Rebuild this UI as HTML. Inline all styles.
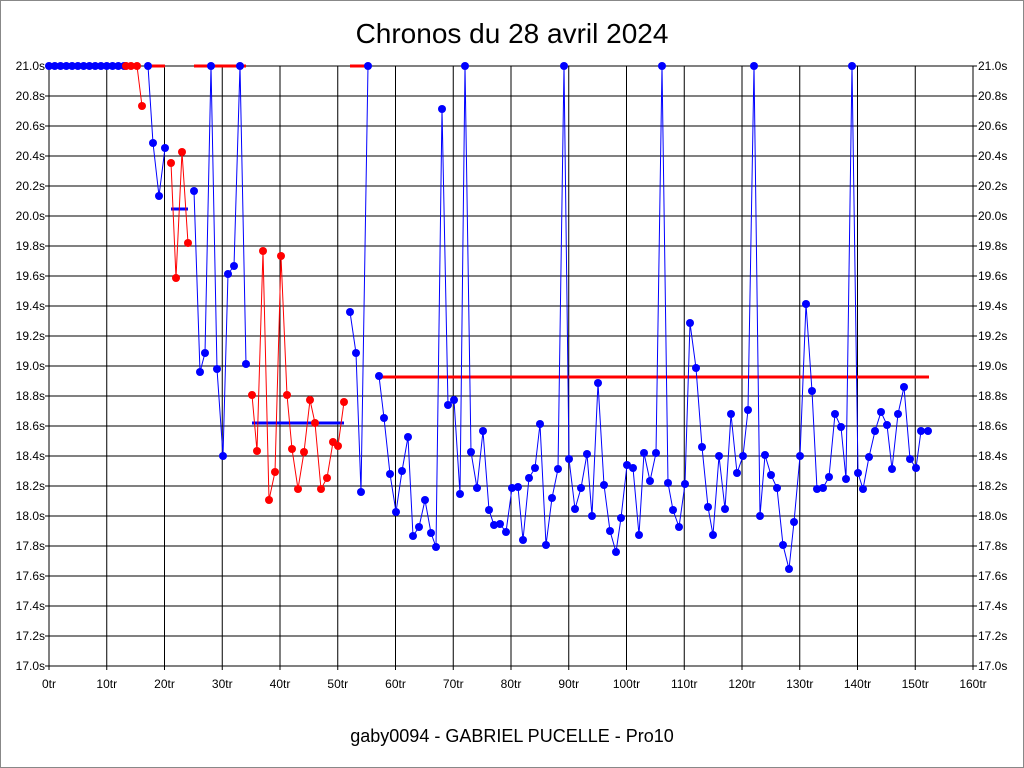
<!DOCTYPE html>
<html><head><meta charset="utf-8"><style>
body{margin:0;background:#fff}
svg{display:block;font-family:"Liberation Sans",sans-serif}
</style></head><body>
<svg id="s" width="1024" height="768" xmlns="http://www.w3.org/2000/svg">
<rect x="0.5" y="0.5" width="1023" height="767" fill="#fff" stroke="#888"/>
<text x="512" y="43" font-size="28" text-anchor="middle">Chronos du 28 avril 2024</text>
<text x="512" y="742" font-size="18" text-anchor="middle">gaby0094 - GABRIEL PUCELLE - Pro10</text>
<g id="grid" stroke="#000" stroke-width="1"></g>
<g font-size="12" text-anchor="end">
<text x="45" y="70">21.0s</text><text x="45" y="100">20.8s</text><text x="45" y="130">20.6s</text><text x="45" y="160">20.4s</text><text x="45" y="190">20.2s</text><text x="45" y="220">20.0s</text><text x="45" y="250">19.8s</text><text x="45" y="280">19.6s</text><text x="45" y="310">19.4s</text><text x="45" y="340">19.2s</text><text x="45" y="370">19.0s</text><text x="45" y="400">18.8s</text><text x="45" y="430">18.6s</text><text x="45" y="460">18.4s</text><text x="45" y="490">18.2s</text><text x="45" y="520">18.0s</text><text x="45" y="550">17.8s</text><text x="45" y="580">17.6s</text><text x="45" y="610">17.4s</text><text x="45" y="640">17.2s</text><text x="45" y="670">17.0s</text>
</g>
<g font-size="12">
<text x="978" y="70">21.0s</text><text x="978" y="100">20.8s</text><text x="978" y="130">20.6s</text><text x="978" y="160">20.4s</text><text x="978" y="190">20.2s</text><text x="978" y="220">20.0s</text><text x="978" y="250">19.8s</text><text x="978" y="280">19.6s</text><text x="978" y="310">19.4s</text><text x="978" y="340">19.2s</text><text x="978" y="370">19.0s</text><text x="978" y="400">18.8s</text><text x="978" y="430">18.6s</text><text x="978" y="460">18.4s</text><text x="978" y="490">18.2s</text><text x="978" y="520">18.0s</text><text x="978" y="550">17.8s</text><text x="978" y="580">17.6s</text><text x="978" y="610">17.4s</text><text x="978" y="640">17.2s</text><text x="978" y="670">17.0s</text>
</g>
<g font-size="12" text-anchor="middle">
<text x="49" y="688">0tr</text><text x="106.75" y="688">10tr</text><text x="164.5" y="688">20tr</text><text x="222.25" y="688">30tr</text><text x="280" y="688">40tr</text><text x="337.75" y="688">50tr</text><text x="395.5" y="688">60tr</text><text x="453.25" y="688">70tr</text><text x="511" y="688">80tr</text><text x="568.75" y="688">90tr</text><text x="626.5" y="688">100tr</text><text x="684.25" y="688">110tr</text><text x="742" y="688">120tr</text><text x="799.75" y="688">130tr</text><text x="857.5" y="688">140tr</text><text x="915.25" y="688">150tr</text><text x="973" y="688">160tr</text>
</g>
<g id="data"></g>
</svg>
<script>
var NS="http://www.w3.org/2000/svg",g=document.getElementById("grid"),d=document.getElementById("data");
function el(p,t,a){var e=document.createElementNS(NS,t);for(var k in a)e.setAttribute(k,a[k]);p.appendChild(e);return e;}
for(var i=0;i<=20;i++){var y=66+30*i;el(g,"line",{x1:45,x2:977,y1:y,y2:y});}
for(var i=0;i<=16;i++){var x=49+57.75*i;el(g,"line",{x1:x,x2:x,y1:66,y2:670});}
function hl(x1,x2,y,c){el(d,"line",{x1:x1,x2:x2,y1:y,y2:y,stroke:c,"stroke-width":3});}
hl(148,165,66,"red");hl(194,246,66,"red");hl(350,366,66,"red");hl(379,929,377,"red");
hl(171,188,209,"blue");hl(252,344,423,"blue");
function ser(pts,c){el(d,"polyline",{points:pts.map(function(p){return p.join(",")}).join(" "),fill:"none",stroke:c,"stroke-width":1});pts.forEach(function(p){el(d,"circle",{cx:p[0],cy:p[1],r:4,fill:c});});}
var b0=[];for(var i=0;i<14;i++)b0.push([49+5.775*i,66]);ser(b0,"blue");
ser([[126,66],[131,66],[137,66],[142,106]],"red");
ser([[148,66],[153,143],[159,196],[165,148]],"blue");
ser([[171,163],[176,278],[182,152],[188,243]],"red");
ser([[194,191],[200,372],[205,353],[211,66],[217,369],[223,456],[228,274],[234,266],[240,66],[246,364]],"blue");
ser([[252,395],[257,451],[263,251],[269,500],[275,472],[281,256],[287,395],[292,449],[298,489],[304,452],[310,400],[315,423],[321,489],[327,478],[333,442],[338,446],[344,402]],"red");
ser([[350,312],[356,353],[361,492],[368,66]],"blue");
ser([[379,376],[384,418],[390,474],[396,512],[402,471],[408,437],[413,536],[419,527],[425,500],[431,533],[436,547],[442,109],[448,405],[454,400],[460,494],[465,66],[471,452],[477,488],[483,431],[489,510],[494,525],[500,524],[506,532],[512,488],[518,487],[523,540],[529,478],[535,468],[540,424],[546,545],[552,498],[558,469],[564,66],[569,459],[575,509],[581,488],[587,454],[592,516],[598,383],[604,485],[610,531],[616,552],[621,518],[627,465],[633,468],[639,535],[644,453],[650,481],[656,453],[662,66],[668,483],[673,510],[679,527],[685,484],[690,323],[696,368],[702,447],[708,507],[713,535],[719,456],[725,509],[731,414],[737,473],[743,456],[748,410],[754,66],[760,516],[765,455],[771,475],[777,488],[783,545],[789,569],[794,522],[800,456],[806,304],[812,391],[817,489],[823,488],[829,477],[835,414],[841,427],[846,479],[852,66],[858,473],[863,489],[869,457],[875,431],[881,412],[887,425],[892,469],[898,414],[904,387],[910,459],[916,468],[921,431],[928,431]],"blue");
</script>
</body></html>
